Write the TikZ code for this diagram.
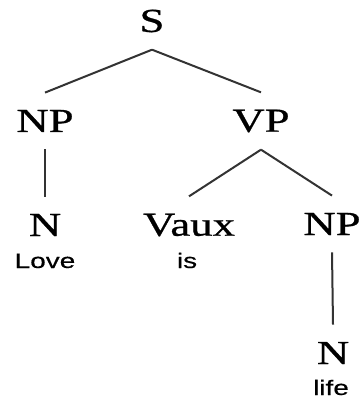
\documentclass[tikz,border=0pt]{standalone}
\usepackage{fontspec}
\newfontfamily\catfont[FakeStretch=1.33,FakeBold=0.8]{Liberation Serif}
\newfontfamily\wordfont[FakeStretch=1.33,FakeBold=0.4]{Liberation Sans}
\tikzset{
  cat/.style={font=\catfont\fontsize{16.8}{18}\selectfont, inner xsep=0pt, inner ysep=8.5pt},
  word/.style={font=\wordfont\fontsize{10.5}{12}\selectfont, inner sep=0pt, anchor=base},
  branch/.style={draw=black!80, line width=1pt}
}
\begin{document}
\begin{tikzpicture}[x=0.5pt, y=0.5pt]
  \useasboundingbox (0,0) rectangle (361,-400);
  % category labels
  \foreach \n/\a/\x/\y in {s/S/152/21, np1/NP/45/121, vp/VP/261/121, n1/N/45/225, vaux/Vaux/189/225, np2/NP/332/224, n2/N/333/353} {
    \node[cat] (\n) at (\x,-\y) {\a};
  }
  % words
  \foreach \n/\a/\x/\y in {w1/Love/45/268, w2/is/187/268, w3/life/331/395} {
    \node[word] (\n) at (\x,-\y) {\a};
  }
  % branches
  \foreach \a/\b in {s/np1, s/vp, np1/n1, vp/vaux, vp/np2, np2/n2} {
    \draw[branch] (\a.south) -- (\b.north);
  }
\end{tikzpicture}
\end{document}
